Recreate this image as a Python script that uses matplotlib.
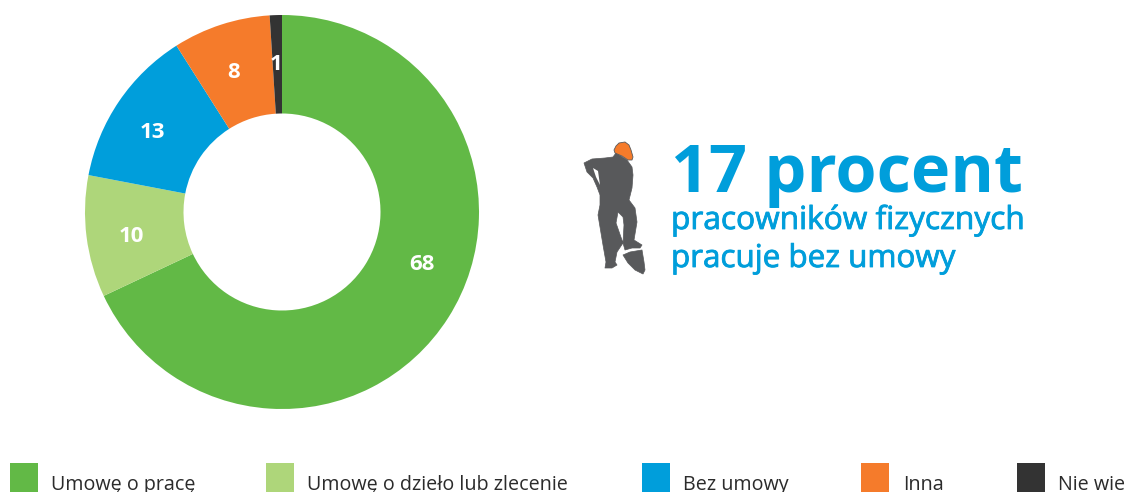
import matplotlib
matplotlib.use('Agg')
import matplotlib.pyplot as plt
import matplotlib.patheffects as pe
from matplotlib.patches import Polygon, Rectangle

kategorie = ['Umowę o pracę', 'Umowę o dzieło lub zlecenie', 'Bez umowy', 'Inna', 'Nie wie']
wartosci = [68, 10, 13, 8, 1]
kolory = ['#62B946', '#AED67A', '#009EDB', '#F57B2B', '#333333']

kwadrat_x = [10, 266, 642, 861, 1017]
tekst_x = [51, 307, 683, 903, 1058]
etykiety_xy = [(422, 265), (131, 237), (152, 133), (234, 72), (276, 65)]

W, H = 1127, 492
plt.rcParams['font.family'] = ['Open Sans', 'DejaVu Sans']

fig = plt.figure(figsize=(W / 100, H / 100), dpi=100, facecolor='white')

# warstwa w pikselach na legende, napisy i ludzika
tlo = fig.add_axes([0, 0, 1, 1])
tlo.set_xlim(0, W)
tlo.set_ylim(H, 0)
tlo.axis('off')

# kolo
ax = fig.add_axes([85 / W, (H - 409) / H, 394 / W, 394 / H])
wedges, _, autotexts = ax.pie(wartosci, colors=kolory, startangle=90, counterclock=False,
                              radius=1, wedgeprops={'width': 0.5},
                              autopct=lambda p: '%d' % round(p), pctdistance=0.75,
                              textprops={'color': 'white', 'fontsize': 16, 'fontweight': 'bold'})
ax.set_xlim(-1, 1)
ax.set_ylim(-1, 1)
for t, (x, y) in zip(autotexts, etykiety_xy):
    t.set_position(((x - 282) / 197, (212 - y) / 197))

# legenda
for i in range(len(kategorie)):
    tlo.add_patch(Rectangle((kwadrat_x[i], 463), 28, 29, color=kolory[i], lw=0))
    tlo.text(tekst_x[i], 490, kategorie[i], fontsize=14.2, color='#2b2b2b', va='baseline', clip_on=False)

# napisy
niebieski = '#009EDB'
grubszy = [pe.withStroke(linewidth=0.6, foreground=niebieski)]
tlo.text(671, 192, '17 procent', fontsize=48, fontweight='bold', color=niebieski, va='baseline')
tlo.text(671, 229, 'pracowników fizycznych', fontsize=22.8, color=niebieski, va='baseline', path_effects=grubszy)
tlo.text(671, 267, 'pracuje bez umowy', fontsize=22.6, color=niebieski, va='baseline', path_effects=grubszy)

# ludzik (wspolrzedne z powiekszenia)
szary = '#58595B'
cialo = [(584, 163), (592, 159), (605, 158), (613, 157), (616, 153), (627, 160), (632, 167), (633, 175),
         (632, 188), (629, 200), (635, 208), (637, 222), (634, 240), (642, 245), (640, 248), (632, 248),
         (625, 250), (623, 243), (624, 225), (623, 217), (618, 212), (616, 223), (623, 243), (617, 252),
         (615, 262), (617, 265), (612, 268), (605, 268), (606, 262), (603, 245), (598, 215), (600, 205),
         (600, 195), (597, 187), (593, 178), (587, 172)]
dziura = [(593, 168), (598, 171), (600, 185), (596, 177)]
lopata = [(623, 255), (630, 252), (642, 250), (644, 262), (645, 270), (643, 274), (635, 270), (628, 263)]
kask = [(614, 150), (616, 146), (619, 143), (625, 142), (629, 145), (631, 150), (633, 157), (632, 160),
        (628, 160), (622, 156), (615, 153)]
tlo.add_patch(Polygon(cialo, facecolor=szary, edgecolor=szary, lw=0.5, joinstyle='round'))
tlo.add_patch(Polygon(dziura, color='white', lw=0))
tlo.add_patch(Polygon(lopata, facecolor=szary, edgecolor=szary, lw=0.5, joinstyle='round'))
tlo.add_patch(Polygon(kask, facecolor='#F57B2B', edgecolor=szary, lw=0.6, joinstyle='round'))

fig.savefig('out.png', dpi=100)
